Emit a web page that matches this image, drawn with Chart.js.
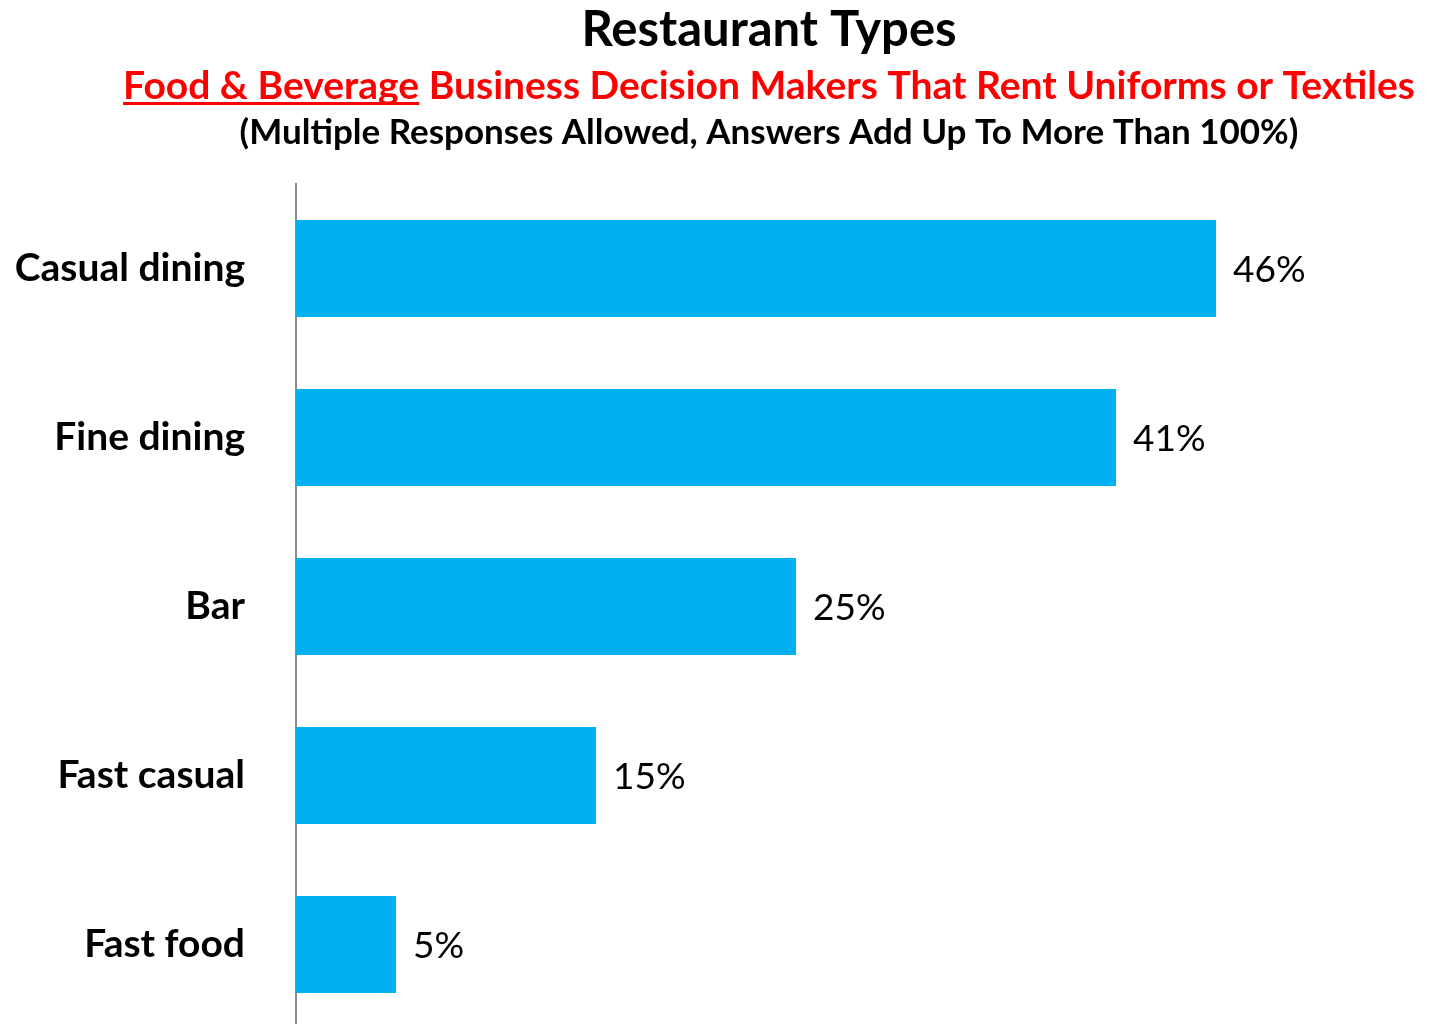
<!DOCTYPE html>
<html>
<head>
<meta charset="utf-8">
<title>Restaurant Types</title>
<script src="https://cdn.jsdelivr.net/npm/chart.js@4"></script>
<style>
    html, body { margin: 0; padding: 0; background: #fff; overflow: hidden; }
    #wrap { position: relative; width: 1433px; height: 1029px; }
</style>
</head>
<body>
<div id="wrap"><canvas id="restaurantChart"></canvas></div>
<script>
// Dados do gráfico
const categories = ['Casual dining', 'Fine dining', 'Bar', 'Fast casual', 'Fast food'];
const percentValues = [46, 41, 25, 15, 5];

const titleText = 'Restaurant Types';
const subtitleUnderlined = 'Food & Beverage';
const subtitleRest = ' Business Decision Makers That Rent Uniforms or Textiles';
const noteText = '(Multiple Responses Allowed, Answers Add Up To More Than 100%)';

const FONT = 'Lato, "Open Sans", sans-serif';

// Títulos desenhados à mão (parte do subtítulo é sublinhada)
const titlesPlugin = {
    id: 'titles',
    afterDraw(chart) {
        const ctx = chart.ctx;
        const cx = 769;
        ctx.save();
        ctx.textBaseline = 'middle';

        ctx.fillStyle = '#000';
        ctx.font = `bold 49px ${FONT}`;
        ctx.textAlign = 'center';
        ctx.fillText(titleText, cx, 30);

        ctx.font = `bold 39px ${FONT}`;
        ctx.fillStyle = '#FF0000';
        const w1 = ctx.measureText(subtitleUnderlined).width;
        const w2 = ctx.measureText(subtitleRest).width;
        const startX = cx - (w1 + w2) / 2;
        ctx.textAlign = 'left';
        ctx.fillText(subtitleUnderlined, startX, 86);
        ctx.fillText(subtitleRest, startX + w1, 86);
        ctx.fillRect(startX, 102, w1, 3);

        ctx.fillStyle = '#000';
        ctx.font = `bold 35px ${FONT}`;
        ctx.textAlign = 'center';
        ctx.fillText(noteText, cx, 133);
        ctx.restore();
    }
};

// Rótulos de valor ao lado das barras
const valueLabelsPlugin = {
    id: 'valueLabels',
    afterDatasetsDraw(chart) {
        const ctx = chart.ctx;
        const meta = chart.getDatasetMeta(0);
        ctx.save();
        ctx.font = `37px ${FONT}`;
        ctx.fillStyle = '#000';
        ctx.textAlign = 'left';
        ctx.textBaseline = 'middle';
        meta.data.forEach((bar, i) => {
            ctx.fillText(percentValues[i] + '%', bar.x + 17, bar.y + 2);
        });
        ctx.restore();
    }
};

const ctx = document.getElementById('restaurantChart').getContext('2d');
new Chart(ctx, {
    type: 'bar',
    data: {
        labels: categories,
        datasets: [{
            data: percentValues,
            backgroundColor: '#00B0F0',
            borderWidth: 0,
            categoryPercentage: 1,
            barPercentage: 0.574
        }]
    },
    options: {
        indexAxis: 'y',
        responsive: true,
        maintainAspectRatio: false,
        animation: false,
        layout: {
            padding: { top: 184, right: 17, bottom: 0, left: 0 }
        },
        plugins: {
            legend: { display: false },
            tooltip: { enabled: false }
        },
        scales: {
            x: {
                display: false,
                min: 0,
                max: 56
            },
            y: {
                afterFit: (scale) => {
                    scale.width = 296;
                    scale.paddingTop = 0;
                    scale.paddingBottom = 0;
                },
                grid: { display: false, drawTicks: false },
                border: { display: true, color: '#8c8c8c', width: 2 },
                ticks: {
                    color: '#000',
                    padding: 51,
                    font: { family: FONT, size: 39, weight: 'bold' }
                }
            }
        }
    },
    plugins: [titlesPlugin, valueLabelsPlugin]
});
</script>
</body>
</html>
